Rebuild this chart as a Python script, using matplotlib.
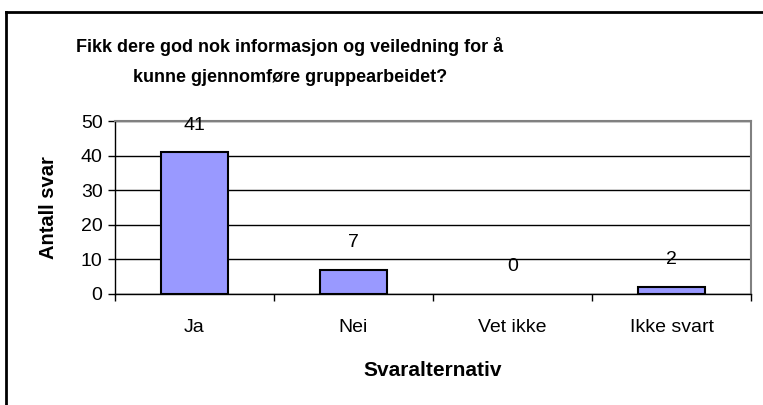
import matplotlib.pyplot as plt
from matplotlib.lines import Line2D
import numpy as np

categories = ["Ja", "Nei", "Vet ikke", "Ikke svart"]
counts = [41, 7, 0, 2]
y_ticks = [0, 10, 20, 30, 40, 50]
title = "Fikk dere god nok informasjon og veiledning for å\nkunne gjennomføre gruppearbeidet?"

plt.rcParams['font.family'] = ['Liberation Sans', 'DejaVu Sans']

fig = plt.figure(figsize=(7.63, 4.05), dpi=100)
ax = fig.add_axes([115 / 763, 1 - 294 / 405, (751 - 115) / 763, (294 - 121) / 405])

x = np.arange(len(categories))
# zero-height bars get no outline, like in Excel
edge_widths = [1.5 if v else 0 for v in counts]
ax.bar(x, counts, width=0.42, color="#9999FF", edgecolor="black", linewidth=edge_widths, zorder=3)

for xi, v in zip(x, counts):
    ax.annotate(str(v), (xi, v), xytext=(0, 19.5), textcoords="offset points",
                ha="center", va="center", fontsize=14)

ax.set_xlim(-0.5, len(categories) - 0.5)
ax.set_ylim(0, 50)
ax.set_yticks(y_ticks)
ax.tick_params(axis="y", labelsize=14, length=5, width=1, direction="out", pad=4)
ax.yaxis.grid(True, color="black", linewidth=1, zorder=0)
ax.set_axisbelow(True)

# category ticks sit between categories, labels centred
ax.set_xticks(np.arange(len(categories) + 1) - 0.5)
ax.set_xticklabels([])
ax.set_xticks(x, minor=True)
ax.set_xticklabels(categories, minor=True)
ax.tick_params(axis="x", which="major", length=5, width=1)
ax.tick_params(axis="x", which="minor", length=0, labelsize=14, pad=18)

for s in ["top", "right"]:
    ax.spines[s].set_color("#808080")
    ax.spines[s].set_linewidth(1.5)
for s in ["left", "bottom"]:
    ax.spines[s].set_color("black")
    ax.spines[s].set_linewidth(1)

ax.set_ylabel("Antall svar", fontsize=14.5, fontweight="bold", labelpad=16)
ax.set_xlabel("Svaralternativ", fontsize=15, fontweight="bold", labelpad=18)

fig.text(290 / 763, 1 - 61 / 405, title, ha="center", va="center",
         fontsize=13, fontweight="bold", linespacing=2.0)

# outer chart border (only left and top visible in the crop)
fig.add_artist(Line2D([6 / 763, 6 / 763], [0, 1 - 12 / 405], transform=fig.transFigure,
                      color="black", linewidth=2))
fig.add_artist(Line2D([6 / 763, 1], [1 - 12 / 405, 1 - 12 / 405], transform=fig.transFigure,
                      color="black", linewidth=2))

fig.savefig("out.png", dpi=100)
